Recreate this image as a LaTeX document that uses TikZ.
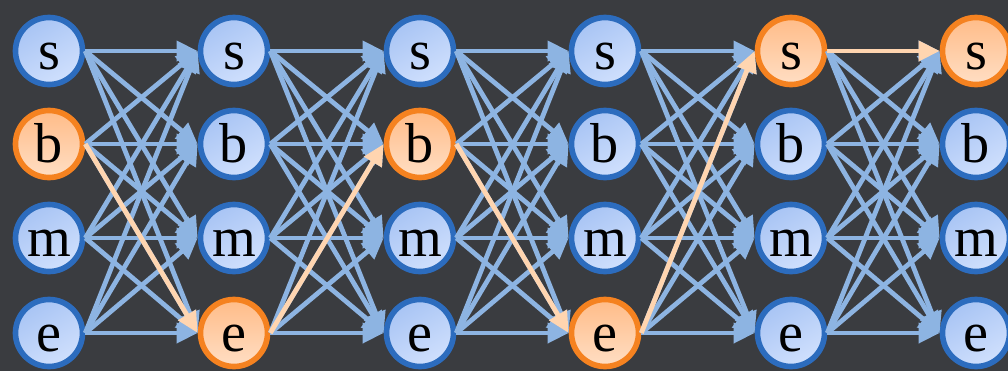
\documentclass[tikz,border=0pt]{standalone}
\usepackage{fontspec}
\setmainfont{Liberation Serif}
\usetikzlibrary{arrows.meta}
\definecolor{BgGrey}{RGB}{58,60,64}
\definecolor{StateBlue}{RGB}{44,108,190}
\definecolor{StateFillA}{RGB}{168,196,244}
\definecolor{StateFillB}{RGB}{208,224,253}
\definecolor{PickOrange}{RGB}{245,130,32}
\definecolor{PickFillA}{RGB}{255,188,136}
\definecolor{PickFillB}{RGB}{255,222,196}
\definecolor{LinkBlue}{RGB}{141,180,226}
\definecolor{BestPeach}{RGB}{255,213,176}

\begin{document}
\begin{tikzpicture}[x=0.025cm,y=-0.025cm,
  state/.style={circle,draw=StateBlue,line width=4pt,minimum size=1.675cm,inner sep=0pt,
    top color=StateFillA,bottom color=StateFillB,shading angle=30,
    font=\fontsize{40}{44}\selectfont,text height=27pt,text depth=0pt},
  picked/.style={state,draw=PickOrange,top color=PickFillA,bottom color=PickFillB},
  link/.style={-{Triangle[length=15pt,width=14pt]},line width=3.4pt,draw=LinkBlue},
  best/.style={link,draw=BestPeach}]
\fill[BgGrey] (0,0) rectangle (1008,371);
\useasboundingbox (0,0) rectangle (1008,371);

% lattice of tags, one column per character
\foreach \c/\x/\p in {1/49/b,2/234/e,3/420/b,4/605/e,5/791/s,6/976/s}
  \foreach \t/\y in {s/51,b/144,m/238,e/333}{
    \ifx\t\p
      \node[picked] (\t\c) at (\x,\y) {\t};
    \else
      \node[state] (\t\c) at (\x,\y) {\t};
    \fi
  }

% every transition between neighbouring columns
\foreach \c [evaluate=\c as \n using int(\c+1)] in {1,...,5}
  \foreach \src in {s,b,m,e}
    \foreach \dst in {s,b,m,e}
      \draw[link] (\src\c.east) -- (\dst\n.west);

% best path
\draw[best] (b1.east) -- (e2.west);
\draw[best] (e2.east) -- (b3.west);
\draw[best] (b3.east) -- (e4.west);
\draw[best] (e4.east) -- (s5.west);
\draw[best] (s5.east) -- (s6.west);
\end{tikzpicture}
\end{document}
